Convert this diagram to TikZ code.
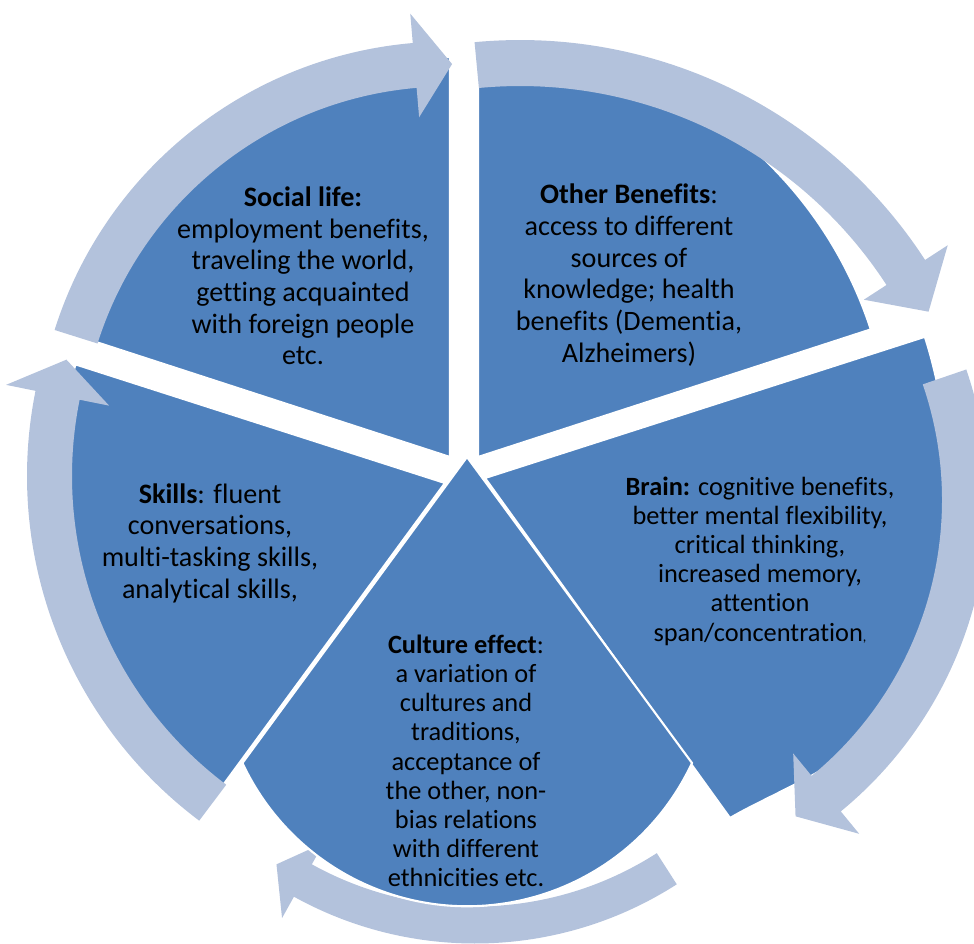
\documentclass[tikz,border=0pt]{standalone}
\usepackage{fontspec}
\setmainfont{Carlito}[Ligatures=NoCommon]
\usepackage{tikz}
\definecolor{myblue}{RGB}{79,129,189}
\definecolor{mylight}{RGB}{179,194,220}
\tikzset{
  segment/.style={fill=myblue, draw=white, line width=1.2pt},
  ringfill/.style={fill=mylight, draw=none},
  bigtext/.style={align=center, inner sep=0pt,
    font=\fontsize{16}{18}\selectfont},
  smalltext/.style={align=center, inner sep=0pt,
    font=\fontsize{15}{16.6}\selectfont}
}
% curved block arrow: centre, radius, half width, tail angle, head angle, tip angle, head half width
\newcommand{\cyclearrow}[7]{%
  \fill[ringfill, shift={(#1)}] (#4:{#2+#3})
    arc[start angle=#4, end angle=#5, radius={#2+#3}]
    -- (#5:{#2+#7}) -- (#6:#2) -- (#5:{#2-#7}) -- (#5:{#2-#3})
    arc[start angle=#5, end angle=#4, radius={#2-#3}] -- cycle;}

\begin{document}
\begin{tikzpicture}[x=0.2mm, y=-0.2mm]
  \useasboundingbox (0,0) rectangle (974,943);
  % Bottom arrow (under the culture segment)
  \cyclearrow{475,570}{355}{18.5}{57.3}{119}{124}{43}
  % Segments
  \fill[segment] (450,457) -- +(198:400) arc[start angle=198, end angle=270, radius=400] -- cycle;
  \fill[segment] (478,457) -- +(-90:413) arc[start angle=-90, end angle=-18, radius=413] -- cycle;
  \fill[segment] (485,478) -- +(-17.8:462) arc[start angle=-17.8, end angle=33, radius=462]
    .. controls (851,763) and (769,795) .. (730,818) -- cycle;
  \fill[segment] (467,457) -- (692,763) arc[start angle=25, end angle=155, radius=248] -- cycle;
  \fill[segment] (445,483) -- +(126.3:388) arc[start angle=126.3, end angle=197.8, radius=388] -- cycle;
  % Arrows round the ring
  \cyclearrow{448,454}{390}{22.5}{197.5}{265.1}{270.6}{52}
  \cyclearrow{520,523}{460}{23}{264.6}{327}{332.65}{50}
  \cyclearrow{585,500}{380}{23}{-18.9}{50.6}{56.35}{52}
  \cyclearrow{458,476}{408.5}{22.5}{126.9}{191.4}{196.55}{52.6}
  % Texts
  \node[bigtext] (social) at (303,276) {\textbf{Social life:}\\employment benefits,\\traveling the world,\\getting acquainted\\with foreign people\\etc.};
  \node[bigtext] (other) at (629,275) {\textbf{Other Benefits}:\\access to different\\sources of\\knowledge; health\\benefits (Dementia,\\Alzheimers)};
  \node[smalltext] (brain) at (760,561) {\textbf{Brain:} cognitive benefits,\\better mental flexibility,\\critical thinking,\\increased memory,\\attention\\span/concentration{\footnotesize,}};
  \node[smalltext] (culture) at (466,761) {\textbf{Culture effect}:\\a variation of\\cultures and\\traditions,\\acceptance of\\the other, non-\\bias relations\\with different\\ethnicities etc.};
  \node[bigtext] (skills) at (210,543) {\textbf{Skills}: fluent\\conversations,\\multi-tasking skills,\\analytical skills,};
\end{tikzpicture}
\end{document}
